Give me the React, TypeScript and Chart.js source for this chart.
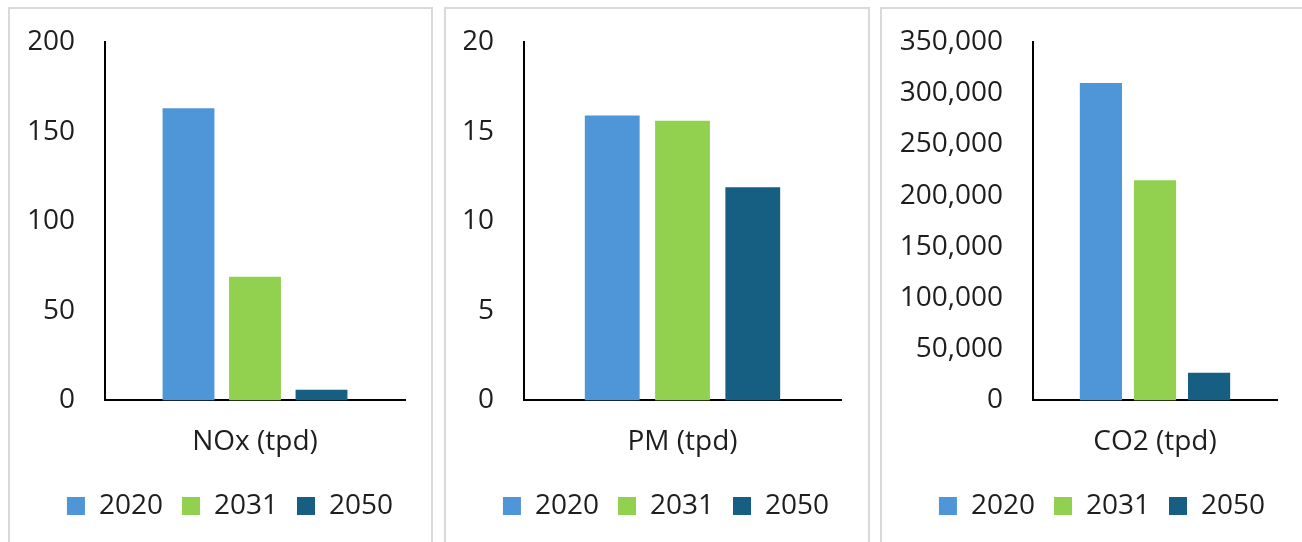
import React, { useEffect, useRef } from "react";
import { Chart, registerables } from "chart.js";

Chart.register(...registerables);

// Series shared by the three panels
const SERIES_LABELS = ["2020", "2031", "2050"];
const SERIES_COLORS = ["#4F96D8", "#92D050", "#175F82"];

// NOx panel
const NOX_CATEGORY = ["NOx (tpd)"];
const NOX_VALUES = [163, 69, 6];
const NOX_TICKS = [0, 50, 100, 150, 200];

// PM panel
const PM_CATEGORY = ["PM (tpd)"];
const PM_VALUES = [15.9, 15.6, 11.9];
const PM_TICKS = [0, 5, 10, 15, 20];

// CO2 panel
const CO2_CATEGORY = ["CO2 (tpd)"];
const CO2_VALUES = [310000, 215000, 27000];
const CO2_TICKS = [0, 50000, 100000, 150000, 200000, 250000, 300000, 350000];

const FONT_FAMILY = "'Open Sans', 'Noto Sans', sans-serif";
const TEXT_COLOR = "#1e1e1e";

type PanelProps = {
  category: string[];
  values: number[];
  ticks: number[];
  left: number;
  width: number;
  yAxisWidth: number;
  padLeft: number;
  rightGap: number;
};

function Panel({ category, values, ticks, left, width, yAxisWidth, padLeft, rightGap }: PanelProps) {
  const canvasRef = useRef<HTMLCanvasElement | null>(null);
  const canvasW = width - 4;
  const canvasH = 536;

  useEffect(() => {
    if (!canvasRef.current) return;
    const chart = new Chart(canvasRef.current, {
      type: "bar",
      data: {
        labels: category,
        datasets: SERIES_LABELS.map((label, i) => ({
          label,
          data: [values[i]],
          backgroundColor: SERIES_COLORS[i],
          borderWidth: 0,
          categoryPercentage: 0.665,
          barPercentage: 0.78,
        })),
      },
      options: {
        responsive: false,
        animation: false,
        devicePixelRatio: 1,
        layout: { padding: { top: 33, left: padLeft, right: 0, bottom: 15 } },
        plugins: {
          legend: {
            position: "bottom",
            labels: {
              boxWidth: 18,
              boxHeight: 18,
              padding: 19,
              color: TEXT_COLOR,
              font: { family: FONT_FAMILY, size: 28 },
            },
          },
          tooltip: { enabled: false },
        },
        scales: {
          x: {
            grid: { display: false, drawTicks: false },
            border: { display: true, color: "#000000", width: 2 },
            afterFit: (scale: any) => {
              scale.height -= 11;
            },
            ticks: {
              color: TEXT_COLOR,
              padding: 25,
              font: { family: FONT_FAMILY, size: 28 },
            },
          },
          y: {
            min: ticks[0],
            max: ticks[ticks.length - 1],
            grid: { display: false, drawTicks: false },
            border: { display: true, color: "#000000", width: 2 },
            afterBuildTicks: (scale: any) => {
              scale.ticks = ticks.map((v) => ({ value: v }));
            },
            afterFit: (scale: any) => {
              scale.width = yAxisWidth;
              scale.paddingTop = 0;
              scale.paddingBottom = 0;
            },
            ticks: {
              color: TEXT_COLOR,
              padding: 30,
              font: { family: FONT_FAMILY, size: 28 },
              callback: (v: any) => Number(v).toLocaleString("en-US"),
            },
          },
          // empty spacer on the right of the plot
          yRight: {
            type: "linear",
            position: "right",
            grid: { display: false, drawTicks: false },
            border: { display: false },
            ticks: { display: false },
            afterFit: (scale: any) => {
              scale.width = rightGap;
              scale.paddingTop = 0;
              scale.paddingBottom = 0;
            },
          },
        },
      },
    });
    return () => chart.destroy();
  }, []);

  return (
    <div
      style={{
        position: "absolute",
        left,
        top: 7,
        width,
        height: 540,
        boxSizing: "border-box",
        border: "2px solid #d9d9d9",
        background: "#ffffff",
      }}
    >
      <canvas
        ref={canvasRef}
        width={canvasW}
        height={canvasH}
        style={{ display: "block", width: canvasW, height: canvasH }}
      />
    </div>
  );
}

export default function App() {
  return (
    <div
      style={{
        position: "absolute",
        left: 0,
        top: 0,
        width: 1302,
        height: 542,
        overflow: "hidden",
        background: "#ffffff",
      }}
    >
      <Panel category={NOX_CATEGORY} values={NOX_VALUES} ticks={NOX_TICKS} left={8} width={425} yAxisWidth={76} padLeft={19} rightGap={26} />
      <Panel category={PM_CATEGORY} values={PM_VALUES} ticks={PM_TICKS} left={444} width={426} yAxisWidth={60} padLeft={18} rightGap={27} />
      <Panel category={CO2_CATEGORY} values={CO2_VALUES} ticks={CO2_TICKS} left={880} width={426} yAxisWidth={133} padLeft={18} rightGap={27} />
    </div>
  );
}
